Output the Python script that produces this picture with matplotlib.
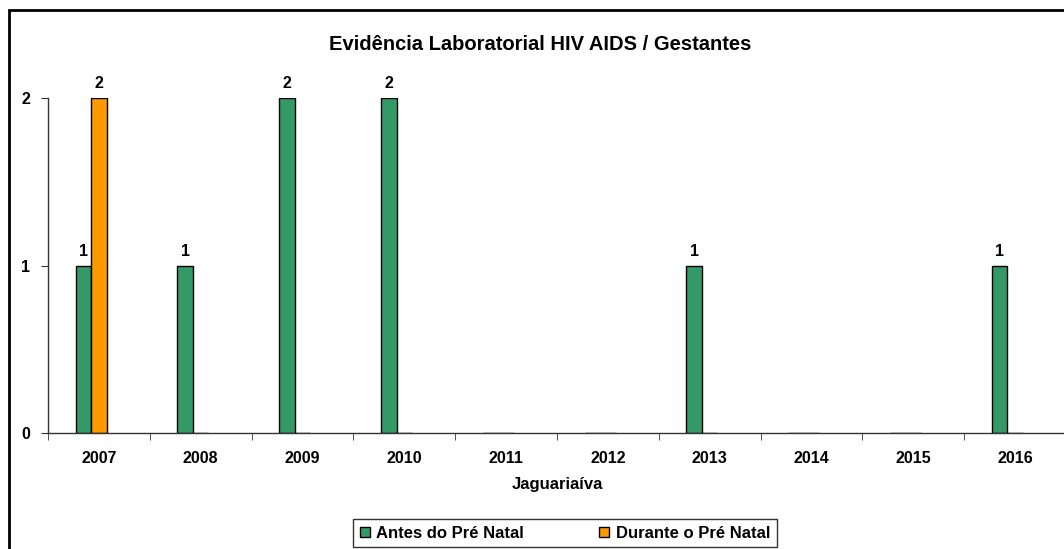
import numpy as np
import matplotlib.pyplot as plt
from matplotlib.patches import Rectangle

plt.rcParams['font.family'] = ['Liberation Sans', 'DejaVu Sans']

anos = ['2007', '2008', '2009', '2010', '2011', '2012', '2013', '2014', '2015', '2016']
antes = [1, 1, 2, 2, 0, 0, 1, 0, 0, 1]
durante = [2, 0, 0, 0, 0, 0, 0, 0, 0, 0]
series = ['Antes do Pré Natal', 'Durante o Pré Natal']
cores = ['#339966', '#FF9900']

fig = plt.figure(figsize=(10.64, 5.49), dpi=100)
ax = fig.add_axes([48 / 1064, 116 / 549, 1018 / 1064, 335 / 549])

x = np.arange(len(anos))
w = 0.153
b1 = ax.bar(x - w, antes, w, color=cores[0], edgecolor='black',
            linewidth=1, label=series[0])
b2 = ax.bar(x, durante, w, color=cores[1], edgecolor='black',
            linewidth=1, label=series[1])

for bars, vals in ((b1, antes), (b2, durante)):
    for r, v in zip(bars, vals):
        if v > 0:
            ax.text(r.get_x() + r.get_width() / 2, v + 0.04, str(v),
                    ha='center', va='bottom', fontsize=11.5, fontweight='bold')

ax.set_xlim(-0.5, len(anos) - 0.5)
ax.set_ylim(0, 2)
ax.set_yticks([0, 1, 2])
ax.set_yticklabels(['0', '1', '2'], fontsize=11.5, fontweight='bold')
ax.set_xticks(x)
ax.set_xticklabels(anos, fontsize=11.5, fontweight='bold')
ax.set_xticks(np.arange(len(anos) + 1) - 0.5, minor=True)
ax.tick_params(axis='x', which='major', length=0, pad=13)
ax.tick_params(axis='x', which='minor', length=5, direction='out', color='#333333')
ax.tick_params(axis='y', length=5, direction='out', pad=8, color='#333333')
for s in ('top', 'right'):
    ax.spines[s].set_visible(False)
for s in ('left', 'bottom'):
    ax.spines[s].set_color('#333333')
    ax.spines[s].set_linewidth(1)

ax.set_xlabel('Jaguariaíva', fontsize=12, fontweight='bold', labelpad=8)
fig.text(540 / 1064, 1 - 45 / 549, 'Evidência Laboratorial HIV AIDS / Gestantes',
         ha='center', va='center', fontsize=14.5, fontweight='bold')

# moldura externa do gráfico
fig.add_artist(Rectangle((9 / 1064, -0.1), 1.2, 1 - 10 / 549 + 0.1,
                         transform=fig.transFigure, fill=False,
                         edgecolor='black', linewidth=2))

leg = fig.legend(handles=[b1, b2], labels=series, loc='upper center',
                 bbox_to_anchor=(565 / 1064, 1 - 519 / 549), ncol=2,
                 frameon=True, fancybox=False, edgecolor='black',
                 prop={'weight': 'bold', 'size': 12}, handlelength=0.6,
                 handleheight=0.6, handletextpad=0.4, columnspacing=4.5,
                 borderpad=0.4, borderaxespad=0)
leg.get_frame().set_linewidth(1)

fig.savefig('out.png', dpi=100)
